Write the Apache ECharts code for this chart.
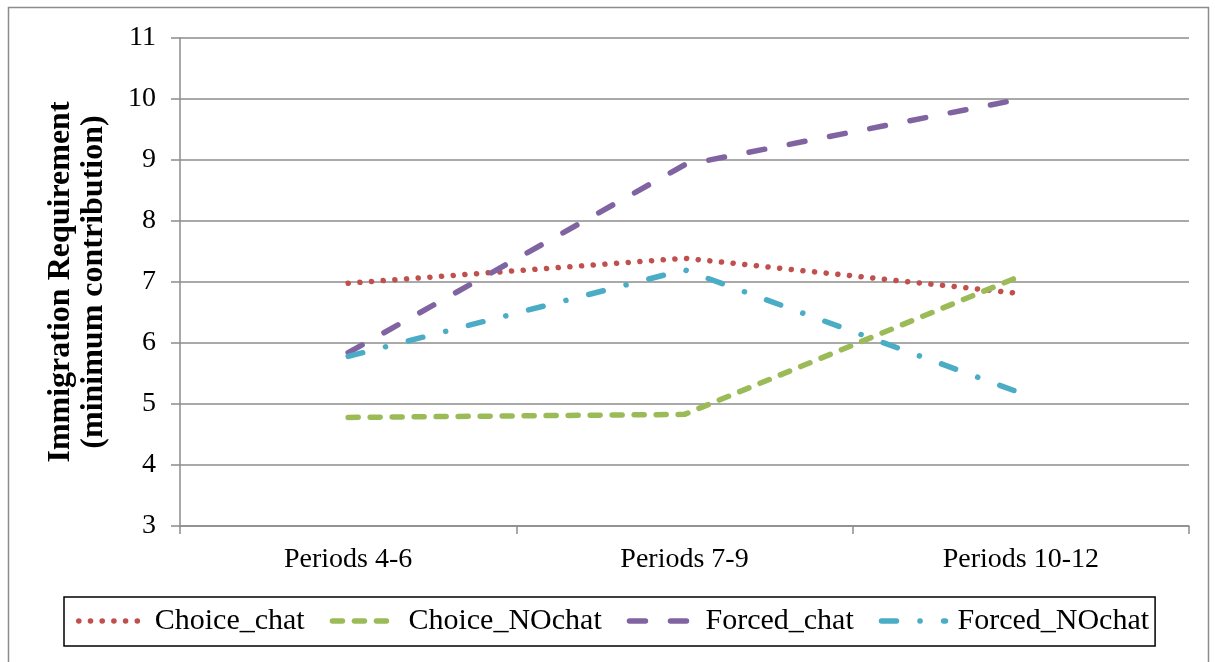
<!DOCTYPE html>
<html>
<head>
<meta charset="utf-8">
<script src="https://cdn.jsdelivr.net/npm/echarts@6/dist/echarts.min.js"></script>
<style>
  html, body { margin: 0; padding: 0; background: #fff; }
  #chart { width: 1215px; height: 662px; }
</style>
</head>
<body>
<div id="chart"></div>
<script>
  const categories = ['Periods 4-6', 'Periods 7-9', 'Periods 10-12']
  const choiceChat = [6.98, 7.39, 6.81]
  const choiceNOchat = [4.78, 4.83, 7.1]
  const forcedChat = [5.84, 8.92, 10.0]
  const forcedNOchat = [5.78, 7.2, 5.18]

  const serif = '"Liberation Serif", "DejaVu Serif", serif'
  const grey = '#8c8c8c'

  const chart = echarts.init(document.getElementById('chart'))

  function lineSeries(name, data, color, dash) {
    return {
      name: name,
      type: 'line',
      data: data,
      symbol: 'none',
      smooth: false,
      lineStyle: {
        color: color,
        width: 5.5,
        type: dash,
        cap: 'round'
      },
      itemStyle: { color: color }
    }
  }

  const option = {
    animation: false,
    textStyle: { fontFamily: serif },
    graphic: [{
      type: 'rect',
      shape: { x: 8.5, y: 7.5, width: 1200, height: 660 },
      style: { fill: 'none', stroke: grey, lineWidth: 1.5 },
      silent: true
    }],
    grid: {
      left: 180,
      right: 26,
      top: 38,
      bottom: 136
    },
    xAxis: {
      type: 'category',
      data: categories,
      boundaryGap: true,
      axisLine: { lineStyle: { color: grey, width: 1.5 } },
      axisTick: { show: true, length: 8, alignWithLabel: false, lineStyle: { color: grey, width: 1.5 } },
      axisLabel: { color: '#000', fontSize: 28, fontFamily: serif, margin: 20 }
    },
    yAxis: {
      type: 'value',
      min: 3,
      max: 11,
      interval: 1,
      name: 'Immigration Requirement\n(minimum contribution)',
      nameLocation: 'middle',
      nameGap: 70,
      nameTextStyle: {
        color: '#000',
        fontSize: 32,
        fontWeight: 'bold',
        fontFamily: serif,
        lineHeight: 33
      },
      axisLine: { show: true, lineStyle: { color: grey, width: 1.5 } },
      axisTick: { show: true, length: 9, lineStyle: { color: grey, width: 1.5 } },
      splitLine: { lineStyle: { color: grey, width: 1.5 } },
      axisLabel: { color: '#000', fontSize: 28, fontFamily: serif, margin: 24 }
    },
    legend: {
      left: 64,
      top: 597,
      orient: 'horizontal',
      borderColor: '#000',
      borderWidth: 1.5,
      padding: [9, 6, 10, 12],
      itemGap: 25,
      itemWidth: 64,
      itemHeight: 12,
      itemStyle: { opacity: 0 },
      lineStyle: { width: 5.5, cap: 'round' },
      textStyle: { color: '#000', fontSize: 30, fontFamily: serif, padding: [0, 0, 0, 7] },
      data: ['Choice_chat', 'Choice_NOchat', 'Forced_chat', 'Forced_NOchat']
    },
    series: [
      lineSeries('Choice_chat', choiceChat, '#C0504D', [0.1, 11.6]),
      lineSeries('Choice_NOchat', choiceNOchat, '#9BBB59', [10, 12]),
      lineSeries('Forced_chat', forcedChat, '#8064A2', [16, 25]),
      lineSeries('Forced_NOchat', forcedNOchat, '#4BACC6', [15, 23.5, 0.1, 23.5])
    ]
  }

  chart.setOption(option)
</script>
</body>
</html>
